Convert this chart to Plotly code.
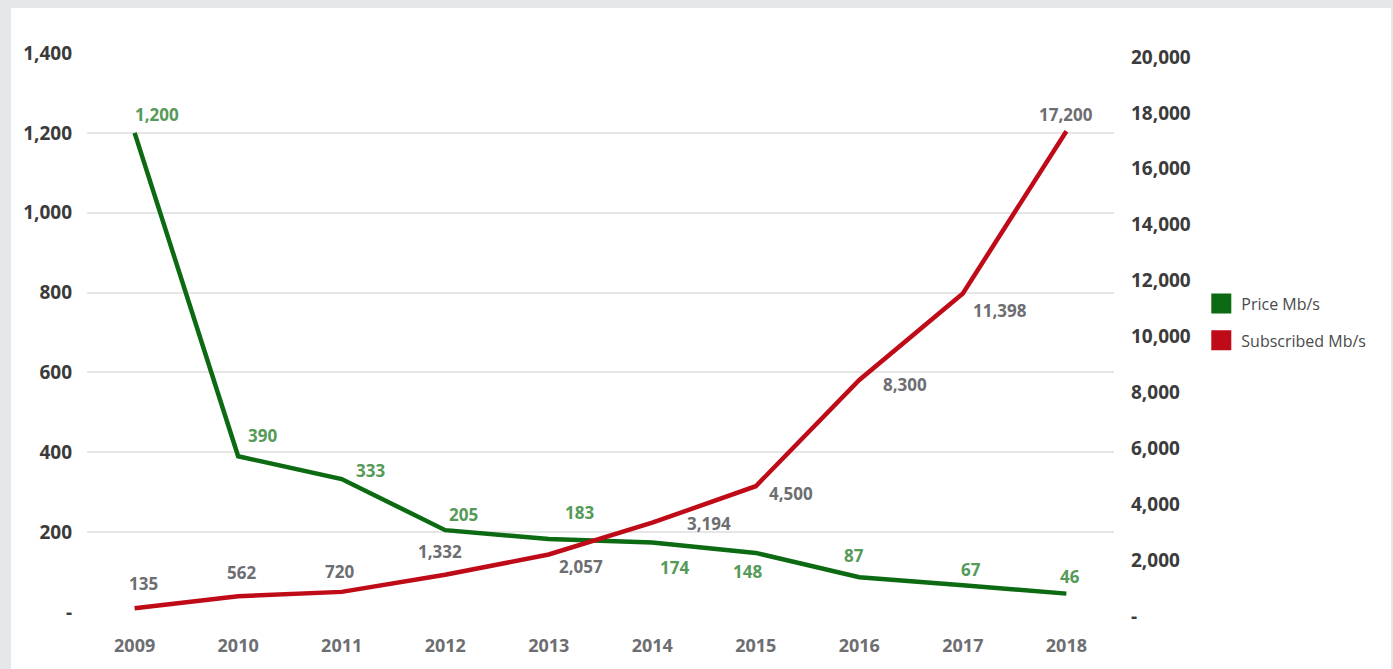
import plotly.graph_objects as go

# Data
years = ["2009", "2010", "2011", "2012", "2013", "2014", "2015", "2016", "2017", "2018"]
price_mbs = [1200, 390, 333, 205, 183, 174, 148, 87, 67, 46]
subscribed_mbs = [135, 562, 720, 1332, 2057, 3194, 4500, 8300, 11398, 17200]

left_ticks = [0, 200, 400, 600, 800, 1000, 1200, 1400]
right_ticks = [0, 2000, 4000, 6000, 8000, 10000, 12000, 14000, 16000, 18000, 20000]

# Label offsets (pixels) for each point's value label
price_shift = [(22, 18), (24, 21), (29, 9), (18, 16), (31, 26), (22, -25), (-8, -19), (-5, 22), (8, 16), (4, 17)]
subs_shift = [(9, 25), (3, 24), (-2, 20), (-5, 23), (32, -12), (57, -1), (35, -7), (46, -4), (37, -17), (0, 17)]

GREEN = "#0b6a12"
RED = "#bf0a17"
GREEN_TXT = "#559a58"
GRAY_TXT = "#6d6e71"
AXIS_TXT = "#3b3b3b"
FONT = "Open Sans"


def fmt(v):
    return "-" if v == 0 else f"{v:,}"


fig = go.Figure()

fig.add_trace(go.Scatter(
    x=years, y=price_mbs, mode="lines", name="Price Mb/s",
    line=dict(color=GREEN, width=4.5), yaxis="y", showlegend=False,
))
fig.add_trace(go.Scatter(
    x=years, y=subscribed_mbs, mode="lines", name="Subscribed Mb/s",
    line=dict(color=RED, width=4.5), yaxis="y2", showlegend=False,
))

# Legend swatches
fig.add_trace(go.Scatter(
    x=[None], y=[None], mode="markers", name="Price Mb/s", legendgroup="a",
    marker=dict(symbol="square", size=16, color=GREEN, line=dict(color=GREEN, width=4)),
))
fig.add_trace(go.Scatter(
    x=[None], y=[None], mode="markers", name="Subscribed Mb/s", legendgroup="b",
    marker=dict(symbol="square", size=16, color=RED, line=dict(color=RED, width=4)),
))

annotations = []
for i, (v, (dx, dy)) in enumerate(zip(price_mbs, price_shift)):
    annotations.append(dict(
        x=i, y=v, xref="x", yref="y", text=f"<b>{fmt(v)}</b>", showarrow=False,
        xshift=dx, yshift=dy, font=dict(family=FONT, size=17, color=GREEN_TXT),
    ))
for i, (v, (dx, dy)) in enumerate(zip(subscribed_mbs, subs_shift)):
    annotations.append(dict(
        x=i, y=v, xref="x", yref="y2", text=f"<b>{fmt(v)}</b>", showarrow=False,
        xshift=dx, yshift=dy, font=dict(family=FONT, size=17, color=GRAY_TXT),
    ))

fig.update_layout(
    width=1393, height=669,
    margin=dict(l=87, r=279, t=53, b=57),
    paper_bgcolor="#e6e7e9",
    plot_bgcolor="white",
    font=dict(family=FONT),
    annotations=annotations,
    shapes=[dict(
        type="rect", xref="paper", yref="paper", layer="below",
        x0=(11 - 87) / 1027, x1=(1391 - 87) / 1027,
        y0=(612 - 680) / 559, y1=(612 - 8) / 559,
        fillcolor="white", line=dict(width=0),
    )],
    xaxis=dict(
        type="category", range=[-0.46, 9.46], showgrid=False, zeroline=False,
        showline=False, ticks="", ticklabelstandoff=21,
        tickfont=dict(family=FONT, size=18, color=GRAY_TXT, weight="bold"),
    ),
    yaxis=dict(
        range=[0, 1400], tickvals=left_ticks, ticktext=[fmt(t) for t in left_ticks],
        showgrid=True, gridcolor="#e6e6e6", gridwidth=2, zeroline=False,
        showline=False, ticks="", ticklabelstandoff=14,
        tickfont=dict(family=FONT, size=19, color=AXIS_TXT, weight="bold"),
    ),
    yaxis2=dict(
        range=[0, 20000], tickvals=right_ticks, ticktext=[fmt(t) for t in right_ticks],
        overlaying="y", side="right", showgrid=False, zeroline=False,
        showline=False, ticks="", ticklabelstandoff=16, ticklabelshift=4,
        tickfont=dict(family=FONT, size=19, color=AXIS_TXT, weight="bold"),
    ),
    legend=dict(
        x=1.085, xanchor="left", y=0.582, yanchor="top",
        font=dict(family=FONT, size=16, color="#4a4a4a"),
        bgcolor="rgba(0,0,0,0)", tracegroupgap=13, itemwidth=30,
    ),
)

fig.write_html("out.html")
